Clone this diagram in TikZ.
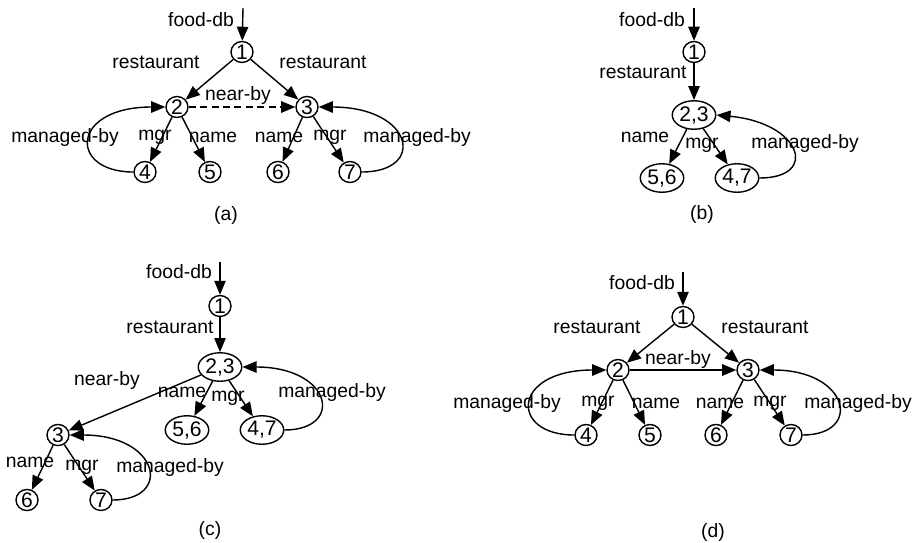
\documentclass[tikz,border=0pt]{standalone}
\usepackage{fontspec}
\setmainfont{Liberation Sans}
\usepackage{tikz}
\usetikzlibrary{positioning,arrows.meta,shapes.geometric}
\tikzset{
  vtx/.style={draw,ellipse,inner sep=0pt,minimum width=0.44cm,minimum height=0.42cm,
    font=\fontsize{12}{14}\selectfont},
  pair/.style={draw,ellipse,inner sep=0pt,minimum width=0.87cm,minimum height=0.57cm,
    font=\fontsize{12}{14}\selectfont},
  lab/.style={inner sep=0pt},
  sublab/.style={inner sep=0pt},
}

\begin{document}
\begin{tikzpicture}[x=0.02cm,y=-0.02cm,>={Triangle[length=8pt,width=6.5pt]},
   line width=0.8pt,font=\fontsize{11}{13}\selectfont]
  \useasboundingbox (0,0) rectangle (917,542);
  % (a)
  \coordinate (a0) at (243,8);
  \node[vtx] (a1) at (242,52) {1};
  \node[vtx] (a2) at (177,107) {2};
  \node[vtx] (a3) at (307,107) {3};
  \node[vtx] (a4) at (145,172) {4};
  \node[vtx] (a5) at (210,172) {5};
  \node[vtx] (a6) at (278,172) {6};
  \node[vtx] (a7) at (350,172) {7};
  \draw[->] (a0) -- (a1);
  \draw[->] (a1) -- (a2);
  \draw[->] (a1) -- (a3);
  \draw[->,dash pattern=on 4pt off 2.5pt] (a2) -- (a3);
  \draw[->] (a2) -- (a4);
  \draw[->] (a2) -- (a5);
  \draw[->] (a3) -- (a6);
  \draw[->] (a3) -- (a7);
  \draw[->] (a4.west) .. controls +(-65,0) and +(-95,0) .. (a2.west);
  \draw[->] (a7.east) .. controls +(65,0) and +(95,0) .. (a3.east);
  \node[lab] (afd) at (201,20) {food-db};
  \node[lab] (ar1) at (156,62) {restaurant};
  \node[lab] (ar2) at (323,62) {restaurant};
  \node[lab] (anb) at (238,95) {near-by};
  \node[lab] (am1) at (65,137) {managed-by};
  \node[lab] (ag1) at (155,137) {mgr};
  \node[lab] (an1) at (213,137) {name};
  \node[lab] (an2) at (279,137) {name};
  \node[lab] (ag2) at (330,137) {mgr};
  \node[lab] (am2) at (417,137) {managed-by};
  \node[sublab] (acap) at (226,215) {(a)};
  % (b)
  \coordinate (b0) at (694,8);
  \node[vtx] (b1) at (694,52) {1};
  \node[pair] (b23) at (694,115) {2,3};
  \node[pair] (b56) at (662,178) {5,6};
  \node[pair] (b47) at (737,178) {4,7};
  \draw[->] (b0) -- (b1);
  \draw[->] (b1) -- (b23);
  \draw[->] (b23) -- (b56);
  \draw[->] (b23) -- (b47);
  \draw[->] (b47.east) .. controls +(60,0) and +(85,8) .. (b23.east);
  \node[lab] (bfd) at (652,20) {food-db};
  \node[lab] (brs) at (643,72) {restaurant};
  \node[lab] (bnm) at (645,137) {name};
  \node[lab] (bmg) at (702,145) {mgr};
  \node[lab] (bmb) at (805,143) {managed-by};
  \node[sublab] (bcap) at (702,214) {(b)};
  % (c)
  \coordinate (c0) at (220,262);
  \node[vtx] (c1) at (220,306) {1};
  \node[pair] (c23) at (220,367) {2,3};
  \node[pair] (c56) at (187,430) {5,6};
  \node[pair] (c47) at (262,430) {4,7};
  \node[vtx] (c3) at (58,435) {3};
  \node[vtx] (c6) at (27,500) {6};
  \node[vtx] (c7) at (101,500) {7};
  \draw[->] (c0) -- (c1);
  \draw[->] (c1) -- (c23);
  \draw[->] (c23) -- (c3);
  \draw[->] (c23) -- (c56);
  \draw[->] (c23) -- (c47);
  \draw[->] (c3) -- (c6);
  \draw[->] (c3) -- (c7);
  \draw[->] (c47.east) .. controls +(60,0) and +(90,0) .. (c23.east);
  \draw[->] (c7.east) .. controls +(60,0) and +(90,0) .. (c3.east);
  \node[lab] (cfd) at (179,272) {food-db};
  \node[lab] (crs) at (170,327) {restaurant};
  \node[lab] (cnb) at (107,380) {near-by};
  \node[lab] (cn1) at (182,392) {name};
  \node[lab] (cg1) at (228,398) {mgr};
  \node[lab] (cm1) at (332,392) {managed-by};
  \node[lab] (cn2) at (30,462) {name};
  \node[lab] (cg2) at (82,467) {mgr};
  \node[lab] (cm2) at (170,467) {managed-by};
  \node[sublab] (ccap) at (210,530) {(c)};
  % (d)
  \coordinate (d0) at (683,272);
  \node[vtx] (d1) at (683,317) {1};
  \node[vtx] (d2) at (618,370) {2};
  \node[vtx] (d3) at (748,370) {3};
  \node[vtx] (d4) at (586,435) {4};
  \node[vtx] (d5) at (650,435) {5};
  \node[vtx] (d6) at (716,435) {6};
  \node[vtx] (d7) at (791,435) {7};
  \draw[->] (d0) -- (d1);
  \draw[->] (d1) -- (d2);
  \draw[->] (d1) -- (d3);
  \draw[->] (d2) -- (d3);
  \draw[->] (d2) -- (d4);
  \draw[->] (d2) -- (d5);
  \draw[->] (d3) -- (d6);
  \draw[->] (d3) -- (d7);
  \draw[->] (d4.west) .. controls +(-65,0) and +(-95,0) .. (d2.west);
  \draw[->] (d7.east) .. controls +(60,0) and +(90,0) .. (d3.east);
  \node[lab] (dfd) at (642,283) {food-db};
  \node[lab] (dr1) at (597,327) {restaurant};
  \node[lab] (dr2) at (765,327) {restaurant};
  \node[lab] (dnb) at (678,359) {near-by};
  \node[lab] (dm1) at (507,403) {managed-by};
  \node[lab] (dg1) at (598,403) {mgr};
  \node[lab] (dn1) at (656,403) {name};
  \node[lab] (dn2) at (720,403) {name};
  \node[lab] (dg2) at (770,403) {mgr};
  \node[lab] (dm2) at (858,403) {managed-by};
  \node[sublab] (dcap) at (713,532) {(d)};
\end{tikzpicture}
\end{document}
